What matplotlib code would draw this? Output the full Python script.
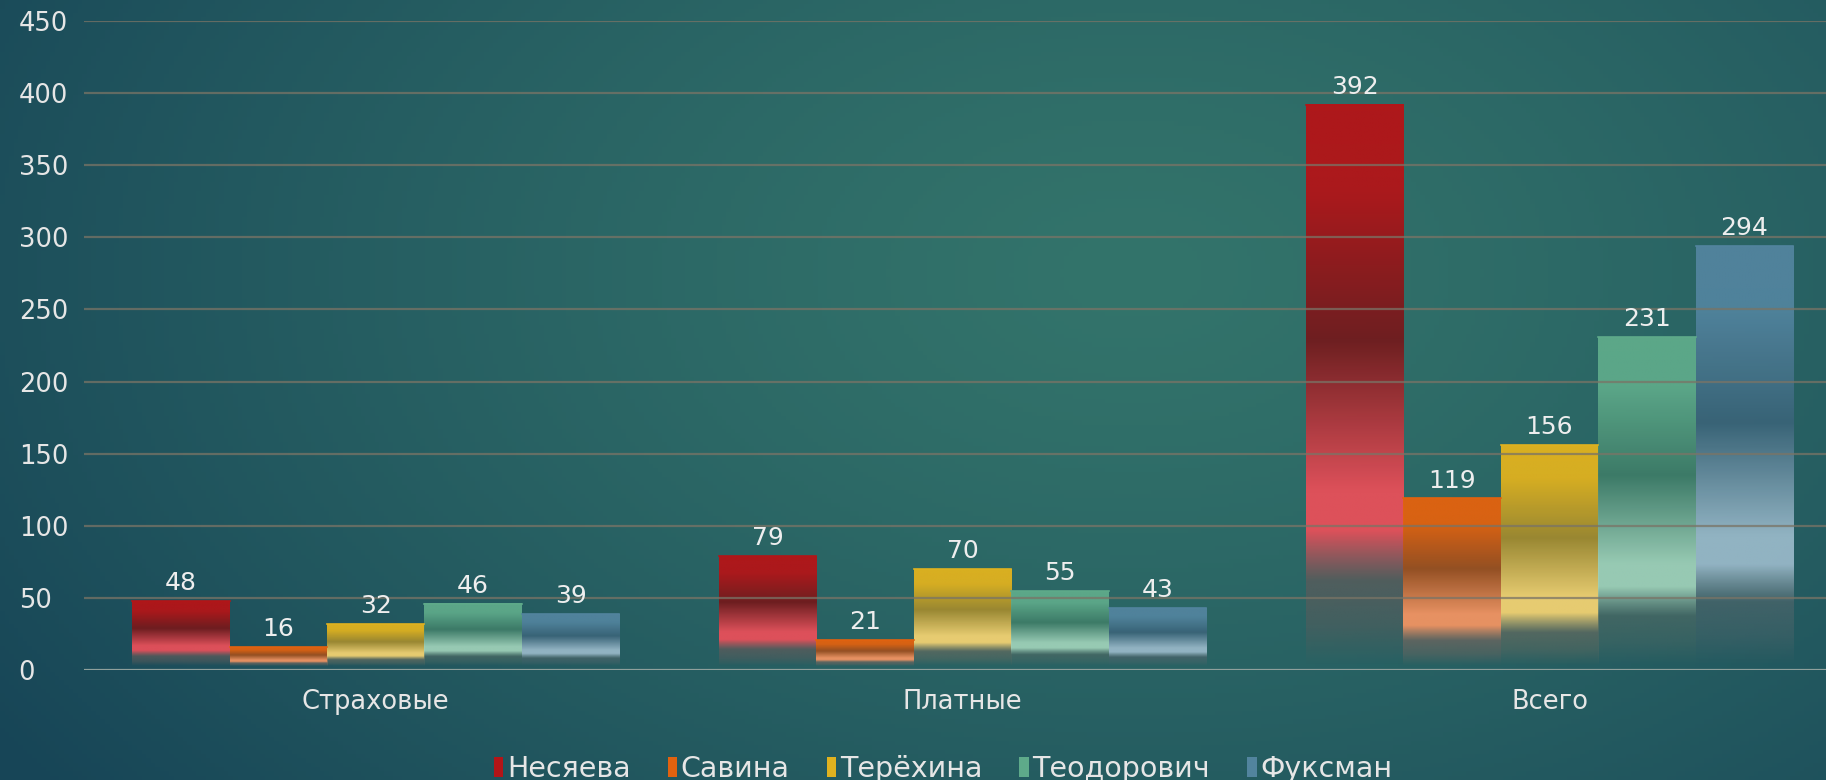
import matplotlib
matplotlib.use("Agg")
import matplotlib.pyplot as plt
from matplotlib.colors import to_rgb
from matplotlib.patches import Patch
import numpy as np

OUTPUT_FILENAME = 'out.png'

categories = ['Страховые', 'Платные', 'Всего']
names = ['Несяева', 'Савина', 'Терёхина', 'Теодорович', 'Фуксман']
nesyaeva = [48, 79, 392]
savina = [16, 21, 119]
terekhina = [32, 70, 156]
teodorovich = [46, 55, 231]
fuksman = [39, 43, 294]
yticks = [0, 50, 100, 150, 200, 250, 300, 350, 400, 450]

# top, dark middle, light highlight, bottom fade
palette = [
    ('#b31518', '#721b1d', '#e8505a', '#5a5c5c'),
    ('#e2620f', '#9a4f20', '#f29462', '#6a6660'),
    ('#e0b21f', '#a08a30', '#f2d272', '#5e6a60'),
    ('#5eaa8a', '#3e7c68', '#9ed0b8', '#486864'),
    ('#52849e', '#3a6478', '#98b8c8', '#48646a'),
]


def gradient_column(colors, n=200):
    top, dark, light, fade = [np.array(to_rgb(c)) for c in colors]
    stops = [(0.0, fade, 0.0), (0.07, fade, 0.5), (0.15, fade, 0.8),
             (0.24, light, 0.95), (0.31, light, 0.95), (0.58, dark, 0.95),
             (0.85, top, 0.95), (1.0, top, 0.97)]
    fr = np.linspace(0, 1, n)
    pos = [s[0] for s in stops]
    rgba = np.zeros((n, 1, 4))
    for k in range(3):
        rgba[:, 0, k] = np.interp(fr, pos, [s[1][k] for s in stops])
    rgba[:, 0, 3] = np.interp(fr, pos, [s[2] for s in stops])
    return rgba[::-1]


def background(w=400, h=180):
    yy, xx = np.mgrid[0:1:h * 1j, 0:1:w * 1j]
    d = np.sqrt(((xx - 0.62) / 0.75) ** 2 + ((yy - 0.35) / 1.1) ** 2)
    t = np.clip(d, 0, 1) ** 1.3
    light = np.array(to_rgb('#33746b'))
    dark = np.array(to_rgb('#174557'))
    img = light * (1 - t[..., None]) + dark * t[..., None]
    return img


def plot_chart():
    plt.rcParams['font.family'] = ['DejaVu Sans']
    fig = plt.figure(figsize=(18.26, 7.8), dpi=100)

    bg = fig.add_axes([0, 0, 1, 1])
    bg.imshow(background(), aspect='auto', extent=[0, 1, 0, 1])
    bg.axis('off')

    ax = fig.add_axes([84 / 1826, 1 - 670 / 780, 1 - 84 / 1826, (670 - 21) / 780])
    ax.set_facecolor('none')

    series = [nesyaeva, savina, terekhina, teodorovich, fuksman]
    width = 0.166
    x = np.arange(len(categories))

    for i, vals in enumerate(series):
        offs = x + (i - 2) * width
        col = gradient_column(palette[i])
        for xc, v in zip(offs, vals):
            ax.imshow(col, aspect='auto', extent=[xc - width / 2, xc + width / 2, 3, v],
                      zorder=2, interpolation='bilinear')
            ax.plot([xc - width / 2, xc + width / 2], [v, v], color=palette[i][0], lw=1.2, zorder=3)
            ax.text(xc, v + 4, str(v), ha='center', va='bottom', fontsize=18,
                    color='#eeeeee', zorder=5)

    for t in yticks[1:]:
        ax.axhline(t, color='#7a7466', lw=1.6, alpha=0.75, zorder=4)
    ax.axhline(0, color='#8fa09c', lw=1.6, zorder=4)

    ax.set_xlim(-0.497, 2.471)
    ax.set_ylim(0, 450)
    ax.set_yticks(yticks)
    ax.set_xticks(x)
    ax.set_xticklabels(categories, fontsize=18.5, color='#e6e6e6')
    ax.tick_params(axis='x', length=0, pad=14)
    ax.tick_params(axis='y', length=0, pad=47, labelsize=18.5, labelcolor='#e6e6e6')
    for lab in ax.get_yticklabels():
        lab.set_horizontalalignment('left')
    for s in ax.spines.values():
        s.set_visible(False)

    handles = [Patch(facecolor=p[0], edgecolor='none') for p in palette]
    fig.legend(handles, names, loc='center', bbox_to_anchor=(943 / 1826, 1 - 769 / 780),
               ncol=5, frameon=False, fontsize=20.5, labelcolor='#e6e6e6',
               handlelength=0.34, handleheight=0.65, handletextpad=0.12, columnspacing=1.3)

    fig.savefig(OUTPUT_FILENAME, dpi=100)
    plt.close('all')


def main():
    plot_chart()


if __name__ == "__main__":
    main()
